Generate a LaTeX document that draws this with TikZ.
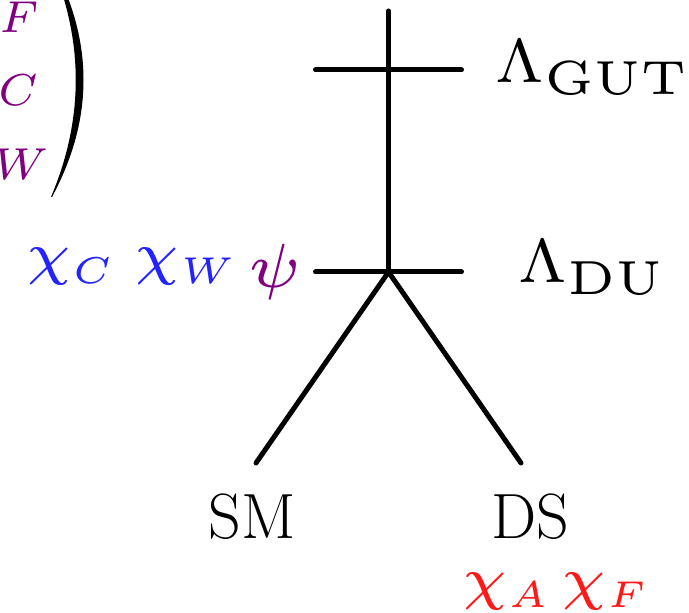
\RequirePackage{fix-cm}
\documentclass[tikz,border=0pt]{standalone}
\usepackage{amsmath, amssymb}
\usepackage{xcolor}
\usetikzlibrary{calc}

\DeclareMathSizes{7}{7}{5.4}{5}
\DeclareMathSizes{6}{6}{3.8}{3}
\definecolor{fieldpurple}{RGB}{128,0,128}
\definecolor{fieldblue}{RGB}{35,35,255}
\definecolor{fieldred}{RGB}{255,25,25}

\begin{document}
\begin{tikzpicture}[x=0.5pt, y=-0.5pt,
  branch/.style={line width=2.5pt, line cap=round},
  scalelbl/.style={inner sep=0pt, scale=4.43, font=\fontsize{7}{8.4}\selectfont},
  sectorlbl/.style={inner sep=0pt, scale=1.85, font=\fontsize{17.28}{20}\selectfont},
  fieldlbl/.style={inner sep=0pt, scale=4.92, font=\fontsize{6}{7.2}\selectfont},
  multlbl/.style={inner sep=0pt, scale=3.2, font=\fontsize{7}{8.4}\selectfont, text=fieldpurple}]
  \useasboundingbox (0,0) rectangle (689,613);

  % Running down from the GUT scale
  \coordinate (top) at (388.5,11);
  \coordinate (gut) at (388.5,70);
  \coordinate (du) at (388.5,272);
  \coordinate (gutL) at (315.5,70);
  \coordinate (gutR) at (461.5,70);
  \coordinate (duL) at (315.5,272);
  \coordinate (duR) at (461.5,272);
  \coordinate (smtip) at (256,463);
  \coordinate (dstip) at (521,463);

  \draw[branch] (top) -- (du);
  \draw[branch] (gutL) -- (gutR);
  \draw[branch] (duL) -- (duR);

  % Split into the two sectors
  \draw[branch] (du) -- (smtip);
  \draw[branch] (du) -- (dstip);

  % Scales
  \node[scalelbl, anchor=base west] (gutlbl) at (494,83) {$\Lambda_{\rm GUT}$};
  \node[scalelbl, anchor=base west] (dulbl) at (517,283) {$\Lambda_{\rm DU}$};

  % Sectors
  \node[sectorlbl, anchor=base] (sm) at (252,538) {SM};
  \node[sectorlbl, anchor=base] (ds) at (530,538) {DS};

  % Fields
  \node[fieldlbl, anchor=base west, text=fieldblue] (chiC) at (25,273.5) {$\chi_C$};
  \node[fieldlbl, anchor=base west, text=fieldblue] (chiW) at (133,273.5) {$\chi_W$};
  \node[inner sep=0pt, scale=5.2, font=\fontsize{6}{7.2}\selectfont, anchor=base west, text=fieldpurple] (psi) at (246,288) {$\psi$};
  \node[fieldlbl, anchor=base west, text=fieldred] (chiA) at (461,598) {$\chi_A$};
  \node[fieldlbl, anchor=base west, text=fieldred] (chiF) at (560,598) {$\chi_F$};

  % Multiplet (cut at the left edge)
  \node[multlbl, anchor=base] (mF) at (19,33) {$F$};
  \node[multlbl, anchor=base] (mC) at (18,106) {$C$};
  \node[multlbl, anchor=base] (mW) at (21,180) {$W$};
  \fill (52,197) .. controls (94,119) and (94,41) .. (52,-37)
    -- (51,-37) .. controls (84,41) and (84,119) .. (51,197) -- cycle;
\end{tikzpicture}
\end{document}
